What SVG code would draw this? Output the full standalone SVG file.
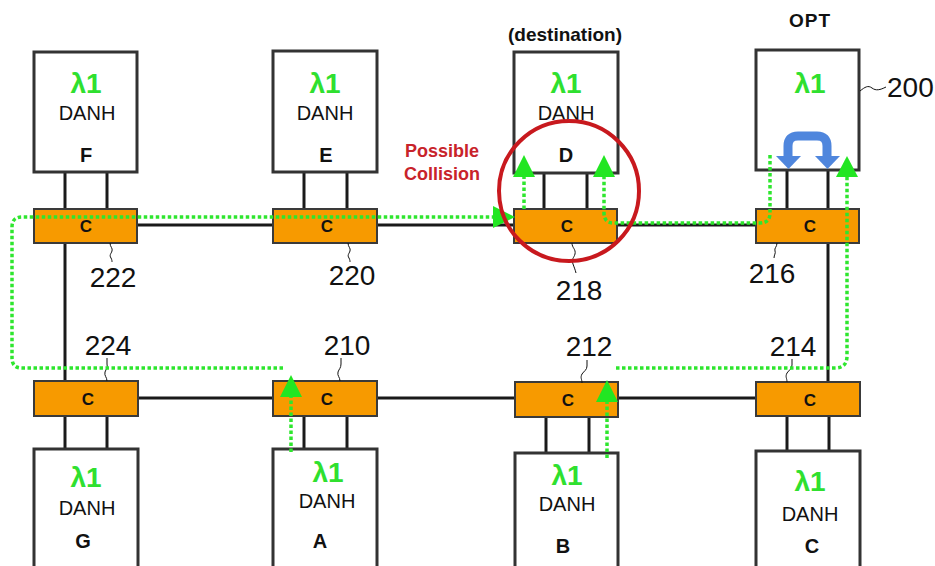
<svg xmlns="http://www.w3.org/2000/svg" width="935" height="566" viewBox="0 0 935 566">
<style>
.box{fill:#fff;stroke:#333;stroke-width:3}
.cb{fill:#f79a00;stroke:#3a3a3a;stroke-width:2}
.ln{stroke:#1a1a1a;stroke-width:3;fill:none}
.lam{font-family:"Liberation Sans",Arial,sans-serif;font-weight:bold;font-size:28px;fill:#2fe02f;text-anchor:middle}
.danh{font-family:"Liberation Sans",Arial,sans-serif;font-size:20px;fill:#111;text-anchor:middle}
.let{font-family:"Liberation Sans",Arial,sans-serif;font-weight:bold;font-size:20px;fill:#111;text-anchor:middle}
.c{font-family:"Liberation Sans",Arial,sans-serif;font-weight:bold;font-size:17px;fill:#111;text-anchor:middle}
.num{font-family:"Liberation Sans",Arial,sans-serif;font-size:28px;fill:#111;text-anchor:middle}
.numl{font-family:"Liberation Sans",Arial,sans-serif;font-size:28px;fill:#111;text-anchor:start}
.lead{stroke:#111;stroke-width:1;fill:none}
.dot{stroke:#2ee62e;stroke-width:3.5;stroke-dasharray:3.5 2.5;fill:none}
.ah{fill:#22e622}
.hdr{font-family:"Liberation Sans",Arial,sans-serif;font-weight:bold;font-size:19px;fill:#111;text-anchor:middle}
.red{font-family:"Liberation Sans",Arial,sans-serif;font-weight:bold;font-size:18px;fill:#c8232a;text-anchor:middle}
</style>

<g id="links">
  <line class="ln" x1="137" y1="225" x2="756" y2="225"/>
  <line class="ln" x1="137" y1="398" x2="756" y2="398"/>
  <line class="ln" x1="65" y1="243" x2="65" y2="382"/>
  <line class="ln" x1="828" y1="243" x2="828" y2="382"/>
  <line class="ln" x1="65" y1="172" x2="65" y2="209"/>
  <line class="ln" x1="107" y1="172" x2="107" y2="209"/>
  <line class="ln" x1="304" y1="172" x2="304" y2="209"/>
  <line class="ln" x1="347" y1="172" x2="347" y2="209"/>
  <line class="ln" x1="544" y1="172" x2="544" y2="209"/>
  <line class="ln" x1="587" y1="172" x2="587" y2="209"/>
  <line class="ln" x1="787" y1="170" x2="787" y2="209"/>
  <line class="ln" x1="828" y1="170" x2="828" y2="209"/>
  <line class="ln" x1="65" y1="416" x2="65" y2="449"/>
  <line class="ln" x1="107" y1="416" x2="107" y2="449"/>
  <line class="ln" x1="304" y1="416" x2="304" y2="449"/>
  <line class="ln" x1="347" y1="416" x2="347" y2="449"/>
  <line class="ln" x1="546" y1="417" x2="546" y2="453"/>
  <line class="ln" x1="589" y1="417" x2="589" y2="453"/>
  <line class="ln" x1="787" y1="416" x2="787" y2="451"/>
  <line class="ln" x1="829" y1="416" x2="829" y2="451"/>
</g>

<g id="node-F">
  <rect class="box" x="34" y="52" width="103" height="120"/>
  <text class="lam" x="86" y="93">λ1</text>
  <text class="danh" x="87" y="120">DANH</text>
  <text class="let" x="86" y="162">F</text>
</g>
<g id="node-E">
  <rect class="box" x="273" y="51" width="104" height="121"/>
  <text class="lam" x="325" y="93">λ1</text>
  <text class="danh" x="325" y="120">DANH</text>
  <text class="let" x="326" y="162">E</text>
</g>
<g id="node-D">
  <rect class="box" x="514" y="52" width="104" height="121"/>
  <text class="lam" x="566" y="93">λ1</text>
  <text class="danh" x="566" y="120">DANH</text>
  <text class="let" x="566" y="162">D</text>
</g>
<g id="node-OPT">
  <rect class="box" x="756" y="50" width="103" height="120"/>
  <text class="lam" x="810" y="93">λ1</text>
  <path d="M788,158 V146 Q788,136 798,136 H817 Q827,136 827,146 V158" fill="none" stroke="#4f86dd" stroke-width="9"/>
  <polygon points="776,156 801,156 788.5,169" fill="#4f86dd"/>
  <polygon points="815,156 840,156 827.5,169" fill="#4f86dd"/>
</g>

<g id="node-G">
  <rect class="box" x="34" y="449" width="104" height="130"/>
  <text class="lam" x="86" y="487">λ1</text>
  <text class="danh" x="87" y="515">DANH</text>
  <text class="let" x="83" y="548">G</text>
</g>
<g id="node-A">
  <rect class="box" x="273" y="449" width="104" height="130"/>
  <text class="lam" x="328" y="482">λ1</text>
  <text class="danh" x="327" y="508">DANH</text>
  <text class="let" x="320" y="548">A</text>
</g>
<g id="node-B">
  <rect class="box" x="515" y="453" width="103" height="130"/>
  <text class="lam" x="567" y="485">λ1</text>
  <text class="danh" x="567" y="511">DANH</text>
  <text class="let" x="563" y="553">B</text>
</g>
<g id="node-C">
  <rect class="box" x="756" y="451" width="104" height="130"/>
  <text class="lam" x="810" y="491">λ1</text>
  <text class="danh" x="810" y="521">DANH</text>
  <text class="let" x="812" y="553">C</text>
</g>

<g id="c222"><rect class="cb" x="34" y="209" width="103" height="34"/><text class="c" x="86" y="232">C</text></g>
<g id="c220"><rect class="cb" x="273" y="209" width="104" height="34"/><text class="c" x="327" y="232">C</text></g>
<g id="c218"><rect class="cb" x="514" y="209" width="103" height="34"/><text class="c" x="567" y="232">C</text></g>
<g id="c216"><rect class="cb" x="756" y="209" width="103" height="34"/><text class="c" x="810" y="232">C</text></g>
<g id="c224"><rect class="cb" x="34" y="381" width="104" height="35"/><text class="c" x="88" y="405">C</text></g>
<g id="c210"><rect class="cb" x="273" y="381" width="104" height="35"/><text class="c" x="327" y="405">C</text></g>
<g id="c212"><rect class="cb" x="515" y="382" width="103" height="35"/><text class="c" x="568" y="406">C</text></g>
<g id="c214"><rect class="cb" x="756" y="382" width="104" height="34"/><text class="c" x="810" y="406">C</text></g>

<g id="labels">
  <path class="lead" d="M110,243 c0,4 3,5 2,8 c-1,3 -3,4 -1,7 c1,2 1,3 1,4"/>
  <text class="num" x="113" y="287">222</text>
  <path class="lead" d="M348,243 c0,4 3,5 2,8 c-1,3 -3,4 -1,7 c1,2 1,3 1,4"/>
  <text class="num" x="352" y="285">220</text>
  <path class="lead" d="M572,243 c0,5 4,6 3,11 c-1,4 -4,5 -2,10 c1,3 2,5 3,9"/>
  <text class="num" x="579" y="300">218</text>
  <path class="lead" d="M777,243 c0,4 -3,5 -2,8 c1,2 -1,4 -1,7"/>
  <text class="num" x="772" y="283">216</text>
  <path class="lead" d="M107,381 c0,-4 -3,-5 -2,-9 c1,-3 3,-4 2,-8 c0,-2 0,-4 0,-6"/>
  <text class="num" x="108" y="355">224</text>
  <path class="lead" d="M340,381 c0,-4 -3,-5 -2,-9 c1,-3 3,-4 3,-8 c0,-2 0,-4 0,-6"/>
  <text class="num" x="347" y="355">210</text>
  <path class="lead" d="M582,383 c0,-4 -2,-5 0,-9 c2,-3 5,-4 5,-8 c0,-2 0,-4 0,-6"/>
  <text class="num" x="589" y="356">212</text>
  <path class="lead" d="M787,382 c0,-4 -2,-5 0,-9 c2,-3 5,-4 5,-8 c0,-2 0,-4 0,-6"/>
  <text class="num" x="793" y="356">214</text>
  <path class="lead" d="M860,91 c5,-4 8,-6 12,-3 c4,3 8,2 14,-1"/>
  <text class="numl" x="887" y="97">200</text>
  <text class="hdr" x="565" y="41">(destination)</text>
  <text class="hdr" x="810" y="27" letter-spacing="1">OPT</text>
  <text class="red" x="442" y="157">Possible</text>
  <text class="red" x="442" y="180">Collision</text>
</g>

<g id="paths">
  <path class="dot" d="M283,368 H22 Q12,368 12,358 V227 Q12,217 22,217 H494"/>
  <polygon class="ah" points="493,206 515,217 493,228"/>
  <path class="dot" d="M291,452 V397"/>
  <polygon class="ah" points="280,397 291,375 302,397"/>
  <path class="dot" d="M607,458 V402"/>
  <polygon class="ah" points="596,402 607,380 618,402"/>
  <path class="dot" d="M616,368 H835 Q847,368 847,356 V177"/>
  <polygon class="ah" points="836,177 847,156 858,177"/>
  <path class="dot" d="M770,155 V213 Q770,223 760,223 H614 Q604,223 604,213 V177"/>
  <polygon class="ah" points="593,177 604,155 615,177"/>
  <path class="dot" d="M524,209 V177"/>
  <polygon class="ah" points="513,177 524,155 535,177"/>
</g>

<g id="collision">
  <circle cx="569" cy="191" r="70" fill="none" stroke="#c8191e" stroke-width="4"/>
</g>
</svg>
